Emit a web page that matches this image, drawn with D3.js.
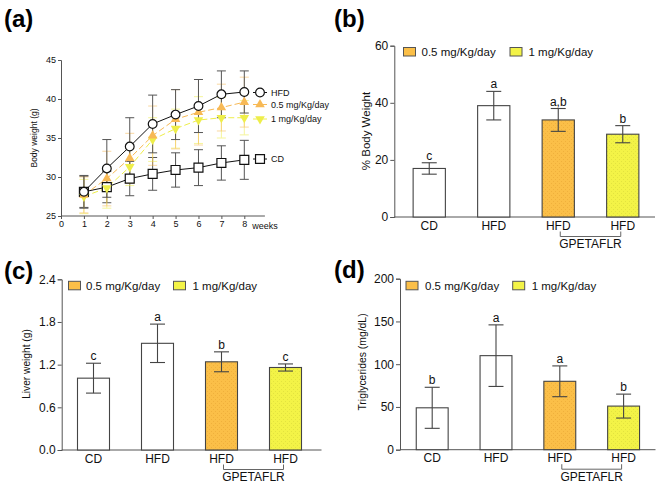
<!DOCTYPE html>
<html>
<head>
<meta charset="utf-8">
<script src="https://cdn.jsdelivr.net/npm/d3@7"></script>
<style>
  html, body { margin: 0; padding: 0; background: #fff; }
  svg { display: block; font-family: "Liberation Sans", Arial, Helvetica, sans-serif; }
</style>
</head>
<body>
<svg id="chart" width="660" height="484"></svg>
<script>
// ---------- DATA ----------
const weeks = [1, 2, 3, 4, 5, 6, 7, 8];
const weekTicks = [0, 1, 2, 3, 4, 5, 6, 7, 8];
const bwTicks = [25, 30, 35, 40, 45];
const hfdMean = [28.1, 31.1, 33.9, 36.8, 38.0, 39.1, 40.6, 40.9];
const hfdErr  = [2.1, 3.7, 3.7, 3.7, 3.2, 3.4, 3.0, 2.7];
const cdMean  = [28.1, 28.7, 29.8, 30.4, 30.9, 31.2, 31.8, 32.2];
const cdErr   = [2.0, 2.0, 2.2, 2.1, 2.2, 2.3, 2.2, 2.5];
const d05Mean = [27.7, 29.8, 32.4, 35.3, 37.4, 38.3, 38.9, 39.6];
const d05Err  = [2.3, 3.5, 3.2, 3.8, 3.8, 4.2, 3.0, 3.2];
const d1Mean  = [27.5, 28.6, 31.3, 34.8, 36.2, 37.3, 37.6, 37.6];
const d1Err   = [2.2, 2.6, 2.4, 2.8, 2.5, 3.0, 2.6, 2.2];
const lineSeriesNames = ["HFD", "0.5 mg/Kg/day", "1 mg/Kg/day", "CD"];

const barGroups = ["CD", "HFD", "HFD", "HFD"];
const barKeys = ["g1", "g2", "g3", "g4"];
const doseLegend = ["0.5 mg/Kg/day", "1 mg/Kg/day"];
const treatmentLabel = "GPETAFLR";

const pctBodyMean = [17, 39, 34, 29];
const pctBodyErr  = [2, 5, 4, 3];
const pctBodyLetters = ["c", "a", "a,b", "b"];
const pctBodyTicks = [0, 20, 40, 60];

const liverMean = [1.01, 1.50, 1.24, 1.16];
const liverErr  = [0.21, 0.27, 0.14, 0.05];
const liverLetters = ["c", "a", "b", "c"];
const liverTicks = [0.0, 0.6, 1.2, 1.8, 2.4];

const trigMean = [49, 110, 80, 51];
const trigErr  = [24, 36, 18, 14];
const trigLetters = ["b", "a", "a", "b"];
const trigTicks = [0, 50, 100, 150, 200];

// ---------- STYLE ----------
const AX = "#555";
const ORANGE = "#fbbf48";
const YELLOW = "#f3f347";
const ORANGE_L = "#f7b955";
const YELLOW_L = "#eeee4a";

const svg = d3.select("#chart");

// patterns for stippled bars
const defs = svg.append("defs");
[["po", ORANGE, "#e9a634"], ["py", YELLOW, "#d9d93a"]].forEach(([id, base, dot]) => {
  const p = defs.append("pattern").attr("id", id).attr("width", 4).attr("height", 4)
    .attr("patternUnits", "userSpaceOnUse");
  p.append("rect").attr("width", 4).attr("height", 4).attr("fill", base);
  p.append("rect").attr("x", 1).attr("y", 1).attr("width", 1).attr("height", 1).attr("fill", dot).attr("opacity", 0.6);
  p.append("rect").attr("x", 3).attr("y", 3).attr("width", 1).attr("height", 1).attr("fill", dot).attr("opacity", 0.6);
});
const barPatternFills = ["#ffffff", "#ffffff", "url(#po)", "url(#py)"];

function panelLabel(txt, x, y) {
  svg.append("text").attr("x", x).attr("y", y).text(txt)
    .attr("font-size", 24).attr("font-weight", "bold").attr("fill", "#000");
}

// ---------- PANEL (a) ----------
(function () {
  const x = d3.scaleLinear().domain([0, 8]).range([61, 244.3]);
  const y = d3.scaleLinear().domain([25, 45]).range([216, 60]);
  const g = svg.append("g");

  const ya = d3.axisLeft(y).tickValues(bwTicks).tickSize(3).tickPadding(2);
  const yg = g.append("g").attr("transform", `translate(${x(0)},0)`).call(ya);
  const xa = d3.axisBottom(x).tickValues(weekTicks).tickSize(3).tickPadding(2);
  const xg = g.append("g").attr("transform", `translate(0,${y(25)})`).call(xa);
  xg.select(".domain").attr("d", `M${x(0)},0H${x(8.9)}`);
  [yg, xg].forEach(a => {
    a.selectAll("path,line").attr("stroke", AX);
    a.selectAll("text").attr("font-size", 9).attr("fill", "#111")
      .attr("font-family", "'Liberation Sans', Arial, sans-serif");
  });
  g.append("text").attr("x", x(8) + 8).attr("y", y(25) + 13).text("weeks")
    .attr("font-size", 9).attr("fill", "#111");
  g.append("text").attr("transform", `translate(37,${y(35)}) rotate(-90)`)
    .attr("text-anchor", "middle").attr("font-size", 8.5).attr("fill", "#111")
    .text("Body weight (g)");

  const series = [
    { name: lineSeriesNames[3], mean: cdMean, err: cdErr, color: "#111", ebar: "#555", op: 1, dash: null, sym: d3.symbolSquare, size: 80, fill: "#fff" },
    { name: lineSeriesNames[2], mean: d1Mean, err: d1Err, color: YELLOW_L, ebar: YELLOW_L, op: 0.55, dash: "6,3", sym: d3.symbolTriangle, size: 40, fill: YELLOW_L, rot: 180 },
    { name: lineSeriesNames[1], mean: d05Mean, err: d05Err, color: ORANGE_L, ebar: ORANGE_L, op: 0.55, dash: "6,3", sym: d3.symbolTriangle, size: 40, fill: ORANGE_L },
    { name: lineSeriesNames[0], mean: hfdMean, err: hfdErr, color: "#111", ebar: "#555", op: 1, dash: null, sym: d3.symbolCircle, size: 60, fill: "#fff" }
  ];

  series.forEach(s => {
    const pts = weeks.map((w, i) => ({ w, m: s.mean[i], e: s.err[i] }));
    const eg = g.append("g").attr("stroke", s.ebar).attr("stroke-width", 1).attr("opacity", s.op);
    pts.forEach(p => {
      eg.append("line").attr("x1", x(p.w)).attr("x2", x(p.w)).attr("y1", y(p.m - p.e)).attr("y2", y(p.m + p.e));
      [p.m - p.e, p.m + p.e].forEach(v => eg.append("line").attr("x1", x(p.w) - 4.5).attr("x2", x(p.w) + 4.5).attr("y1", y(v)).attr("y2", y(v)));
    });
  });
  series.forEach(s => {
    const pts = weeks.map((w, i) => ({ w, m: s.mean[i] }));
    g.append("path").datum(pts)
      .attr("d", d3.line().x(p => x(p.w)).y(p => y(p.m)))
      .attr("fill", "none").attr("stroke", s.color).attr("stroke-width", 1)
      .attr("stroke-dasharray", s.dash);
  });
  series.forEach(s => {
    const sym = d3.symbol().type(s.sym).size(s.size);
    weeks.forEach((w, i) => {
      g.append("path").attr("d", sym)
        .attr("transform", `translate(${x(w)},${y(s.mean[i])}) rotate(${s.rot || 0})`)
        .attr("fill", s.fill).attr("stroke", s.fill === "#fff" ? "#111" : "none").attr("stroke-width", 1.2);
    });
  });

  // legend
  const legY = { "HFD": 92.5, "0.5 mg/Kg/day": 104.5, "1 mg/Kg/day": 119, "CD": 159 };
  series.slice().reverse().forEach(s => {
    const ly = legY[s.name];
    g.append("line").attr("x1", 253).attr("x2", 267).attr("y1", ly).attr("y2", ly)
      .attr("stroke", s.color).attr("stroke-width", 1);
    g.append("path").attr("d", d3.symbol().type(s.sym).size(s.size))
      .attr("transform", `translate(260,${ly}) rotate(${s.rot || 0})`)
      .attr("fill", s.fill).attr("stroke", s.fill === "#fff" ? "#111" : "none").attr("stroke-width", 1.2);
    g.append("text").attr("x", 271).attr("y", ly + 3.2).text(s.name)
      .attr("font-size", 9).attr("fill", "#111");
  });
})();

// ---------- BAR PANELS ----------
function barPanel(cfg) {
  const g = svg.append("g");
  const x = d3.scaleBand().domain(barKeys).range(cfg.xr).paddingInner(0.5).paddingOuter(0.25);
  const y = d3.scaleLinear().domain(cfg.yd).range(cfg.yr);
  const ya = d3.axisLeft(y).tickValues(cfg.ticks).tickSize(4).tickPadding(2)
    .tickFormat(cfg.fmt);
  const yg = g.append("g").attr("transform", `translate(${cfg.axX},0)`).call(ya);
  yg.selectAll("path,line").attr("stroke", AX);
  yg.selectAll("text").attr("font-size", 12).attr("fill", "#111")
    .attr("font-family", "'Liberation Sans', Arial, sans-serif");
  g.append("line").attr("x1", cfg.axX).attr("x2", cfg.axEnd)
    .attr("y1", y(0)).attr("y2", y(0)).attr("stroke", AX).attr("stroke-width", 1);

  const bw = x.bandwidth();
  barKeys.forEach((k, i) => {
    const cx = x(k) + bw / 2;
    g.append("rect").attr("x", x(k)).attr("width", bw)
      .attr("y", y(cfg.mean[i])).attr("height", y(0) - y(cfg.mean[i]))
      .attr("fill", barPatternFills[i]).attr("stroke", "#444").attr("stroke-width", 1.1);
    const lo = cfg.mean[i] - cfg.err[i], hi = cfg.mean[i] + cfg.err[i];
    const eg = g.append("g").attr("stroke", "#444").attr("stroke-width", 1.1);
    eg.append("line").attr("x1", cx).attr("x2", cx).attr("y1", y(lo)).attr("y2", y(hi));
    [lo, hi].forEach(v => eg.append("line").attr("x1", cx - 7.5).attr("x2", cx + 7.5).attr("y1", y(v)).attr("y2", y(v)));
    g.append("text").attr("x", cx).attr("y", y(hi) - 3).attr("text-anchor", "middle")
      .attr("font-size", 12).attr("fill", "#111").text(cfg.letters[i]);
    g.append("text").attr("x", cx).attr("y", y(0) + 12.5).attr("text-anchor", "middle")
      .attr("font-size", 12).attr("fill", "#111").text(barGroups[i]);
  });
  // bracket
  const c3 = x(barKeys[2]) + bw / 2 + 2, c4 = x(barKeys[3]) + bw / 2 - 2;
  const by0 = y(0) + 14.5, by1 = y(0) + 19.5;
  g.append("path").attr("d", `M${c3},${by0}V${by1}H${c4}V${by0}`)
    .attr("fill", "none").attr("stroke", "#666").attr("stroke-width", 1);
  g.append("text").attr("x", (c3 + c4) / 2).attr("y", y(0) + 31).attr("text-anchor", "middle")
    .attr("font-size", 12).attr("fill", "#111").text(treatmentLabel);
  // y title
  g.append("text").attr("transform", `translate(${cfg.titleX},${cfg.titleY}) rotate(-90)`)
    .attr("text-anchor", "middle").attr("font-size", cfg.titleSize).attr("fill", "#111")
    .text(cfg.title);
  // legend
  const fills = [ORANGE, YELLOW];
  doseLegend.forEach((d, i) => {
    g.append("rect").attr("x", cfg.leg[i][0]).attr("y", cfg.legY).attr("width", 12).attr("height", 8.5)
      .attr("fill", fills[i]).attr("stroke", "#555").attr("stroke-width", 1);
    g.append("text").attr("x", cfg.leg[i][1]).attr("y", cfg.legY + 8.5).text(d)
      .attr("font-size", 11.5).attr("fill", "#111");
  });
}

barPanel({
  xr: [397, 655], axX: 394.3, axEnd: 655, yd: [0, 60], yr: [217, 45.7], ticks: pctBodyTicks,
  fmt: d3.format("d"), mean: pctBodyMean, err: pctBodyErr, letters: pctBodyLetters,
  title: "% Body Weight", titleX: 370, titleY: 131, titleSize: 11.5,
  leg: [[403.5, 421.5], [510, 528.5]], legY: 47.5
});
barPanel({
  xr: [61.5, 317.5], axX: 61.7, axEnd: 321.5, yd: [0, 2.4], yr: [450, 279.3], ticks: liverTicks,
  fmt: d3.format(".1f"), mean: liverMean, err: liverErr, letters: liverLetters,
  title: "Liver weight (g)", titleX: 30, titleY: 364, titleSize: 10.2,
  leg: [[68.5, 86], [173.5, 192.5]], legY: 281.3
});
barPanel({
  xr: [400.3, 655.5], axX: 400, axEnd: 655.5, yd: [0, 200], yr: [449.7, 278.7], ticks: trigTicks,
  fmt: d3.format("d"), mean: trigMean, err: trigErr, letters: trigLetters,
  title: "Triglycerides (mg/dL)", titleX: 366, titleY: 362, titleSize: 10.4,
  leg: [[406, 425], [512.7, 531.7]], legY: 281.3
});

panelLabel("(a)", 4, 27);
panelLabel("(b)", 334, 27);
panelLabel("(c)", 4, 279);
panelLabel("(d)", 334, 278);
</script>
</body>
</html>
